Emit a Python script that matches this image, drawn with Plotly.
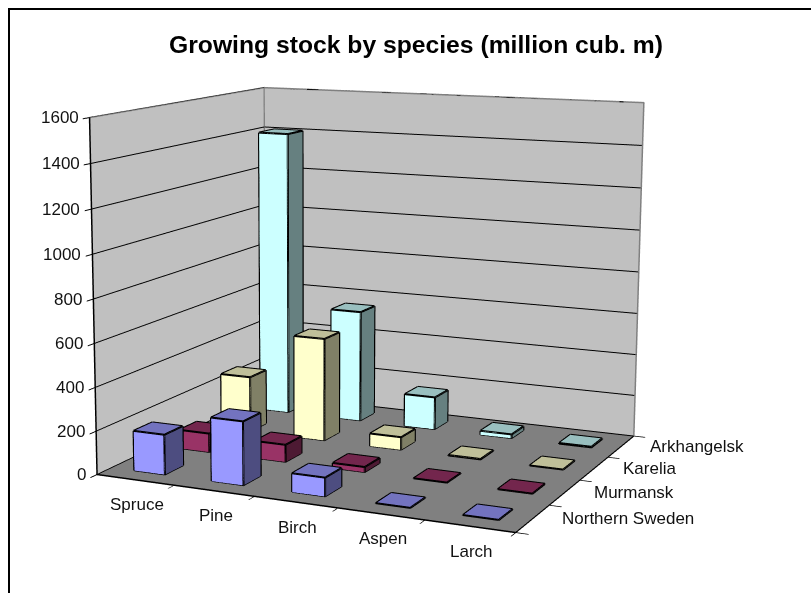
import plotly.graph_objects as go

categories = ["Spruce", "Pine", "Birch", "Aspen", "Larch"]
series_names = ["Northern Sweden", "Murmansk", "Karelia", "Arkhangelsk"]
northern_sweden = [185, 290, 85, 2, 2]
murmansk = [90, 82, 25, 2, 2]
karelia = [270, 495, 62, 4, 2]
arkhangelsk = [1405, 548, 160, 20, 5]
z_ticks = [0, 200, 400, 600, 800, 1000, 1200, 1400, 1600]

# Plotly fixes the 3D field of view, so the long-lens look of the original needs a large scene,
# of which the page shows the 811x593 window.
W, H, LEFT, TOP = 1030, 1642, -218, -537
def px(x): return (x - LEFT) / W
def py(y): return 1 - (y - TOP) / H
eye = dict(x=1.795, y=-4.127, z=0.836)
cen = dict(x=-1.016, y=1.683, z=-0.360)
up = dict(x=-2.080, y=4.307, z=1)
asp = dict(x=1, y=0.849, z=0.809)

x_max = len(categories); y_max = len(series_names); z_max = 1600
fills = ["#9999FF", "#993366", "#FFFFCC", "#CCFFFF"]
tops = ["#7373BF", "#73264D", "#BFBF99", "#99BFBF"]
sides = ["#4D4D80", "#4D1A33", "#808066", "#668080"]
fig = go.Figure()
vals = [northern_sweden, murmansk, karelia, arkhangelsk]
for si, row in enumerate(vals):
    X=[];Y=[];Z=[];I=[];J=[];K=[];FC=[];lx=[];ly=[];lz=[]
    for ci, v in enumerate(row):
        a, b = ci+.3, ci+.7; c, d = si+.3, si+.7
        n = len(X)
        X += [a,b,b,a,a,b,b,a]; Y += [c,c,d,d,c,c,d,d]; Z += [0,0,0,0,v,v,v,v]
        for tri, col in [((0,1,5),fills[si]),((0,5,4),fills[si]),((1,2,6),sides[si]),((1,6,5),sides[si]),((4,5,6),tops[si]),((4,6,7),tops[si])]:
            I.append(n+tri[0]); J.append(n+tri[1]); K.append(n+tri[2]); FC.append(col)
        for e1, e2 in [(0,1),(1,2),(4,5),(5,6),(6,7),(7,4),(0,4),(1,5),(2,6)]:
            lx += [X[n+e1],X[n+e2],None]; ly += [Y[n+e1],Y[n+e2],None]; lz += [Z[n+e1],Z[n+e2],None]
    fig.add_trace(go.Mesh3d(x=X,y=Y,z=Z,i=I,j=J,k=K,facecolor=FC,flatshading=True,
        lighting=dict(ambient=1,diffuse=0,specular=0,fresnel=0),hoverinfo="skip",name=series_names[si]))
    fig.add_trace(go.Scatter3d(x=lx,y=ly,z=lz,mode="lines",line=dict(color="black",width=4),hoverinfo="skip",showlegend=False))
fig.add_trace(go.Scatter3d(x=[0,0,x_max,x_max,None,0,0],y=[0,y_max,y_max,y_max,None,y_max,y_max],z=[z_max,z_max,z_max,0,None,0,z_max],
    mode="lines",line=dict(color="#808080",width=3),hoverinfo="skip",showlegend=False))

tf = dict(size=17, color="#111111")
ann = [dict(x=i+.5,y=0,z=0,text=c,showarrow=False,xanchor="center",yanchor="middle",xshift=2,yshift=-25,font=tf) for i,c in enumerate(categories)]
ann += [dict(x=x_max,y=i+.5,z=0,text=s,showarrow=False,xanchor="left",yanchor="middle",xshift=27,font=tf) for i,s in enumerate(series_names)]
ann += [dict(x=0,y=0,z=t,text=str(t),showarrow=False,xanchor="right",yanchor="middle",xshift=-9,font=tf) for t in z_ticks]
ax = dict(showticklabels=False,title="",showgrid=False,zeroline=False,showspikes=False,ticks="outside",tickcolor="black",ticklen=10,tickwidth=2,
          showline=True,linecolor="black",linewidth=3,showbackground=True,tickmode="array")
fig.update_layout(width=W,height=H,margin=dict(l=0,r=0,t=0,b=0),showlegend=False,paper_bgcolor="white",
  scene=dict(domain=dict(x=[0,1],y=[0,1]),aspectmode="manual",aspectratio=asp,camera=dict(eye=eye,center=cen,up=up,projection=dict(type="perspective")),
    xaxis=dict(ax,range=[0,x_max],backgroundcolor="#C0C0C0",tickvals=list(range(x_max+1))),
    yaxis=dict(ax,range=[0,y_max],backgroundcolor="#C0C0C0",tickvals=list(range(y_max+1))),
    zaxis=dict(ax,range=[0,z_max],backgroundcolor="#808080",tickvals=z_ticks,showgrid=True,gridcolor="black",gridwidth=2),annotations=ann),
  shapes=[dict(type="line",xref="paper",yref="paper",x0=px(9),x1=px(9),y0=py(8),y1=py(600),line=dict(color="black",width=2)),
          dict(type="line",xref="paper",yref="paper",x0=px(8),x1=px(820),y0=py(9),y1=py(9),line=dict(color="black",width=2))],
  annotations=[dict(x=px(415.5),y=py(45),xref="paper",yref="paper",text="<b>Growing stock by species (million cub. m)</b>",showarrow=False,font=dict(size=24.7,family="Liberation Sans",color="black"))],
  font=dict(family="Liberation Sans"))
fig.write_html("out.html",config=dict(displayModeBar=False),
  post_script=f"document.body.style.margin='0';document.body.style.overflow='hidden';document.documentElement.style.overflow='hidden';var g=document.querySelector('.plotly-graph-div');g.style.position='absolute';g.style.left='{LEFT}px';g.style.top='{TOP}px';")
